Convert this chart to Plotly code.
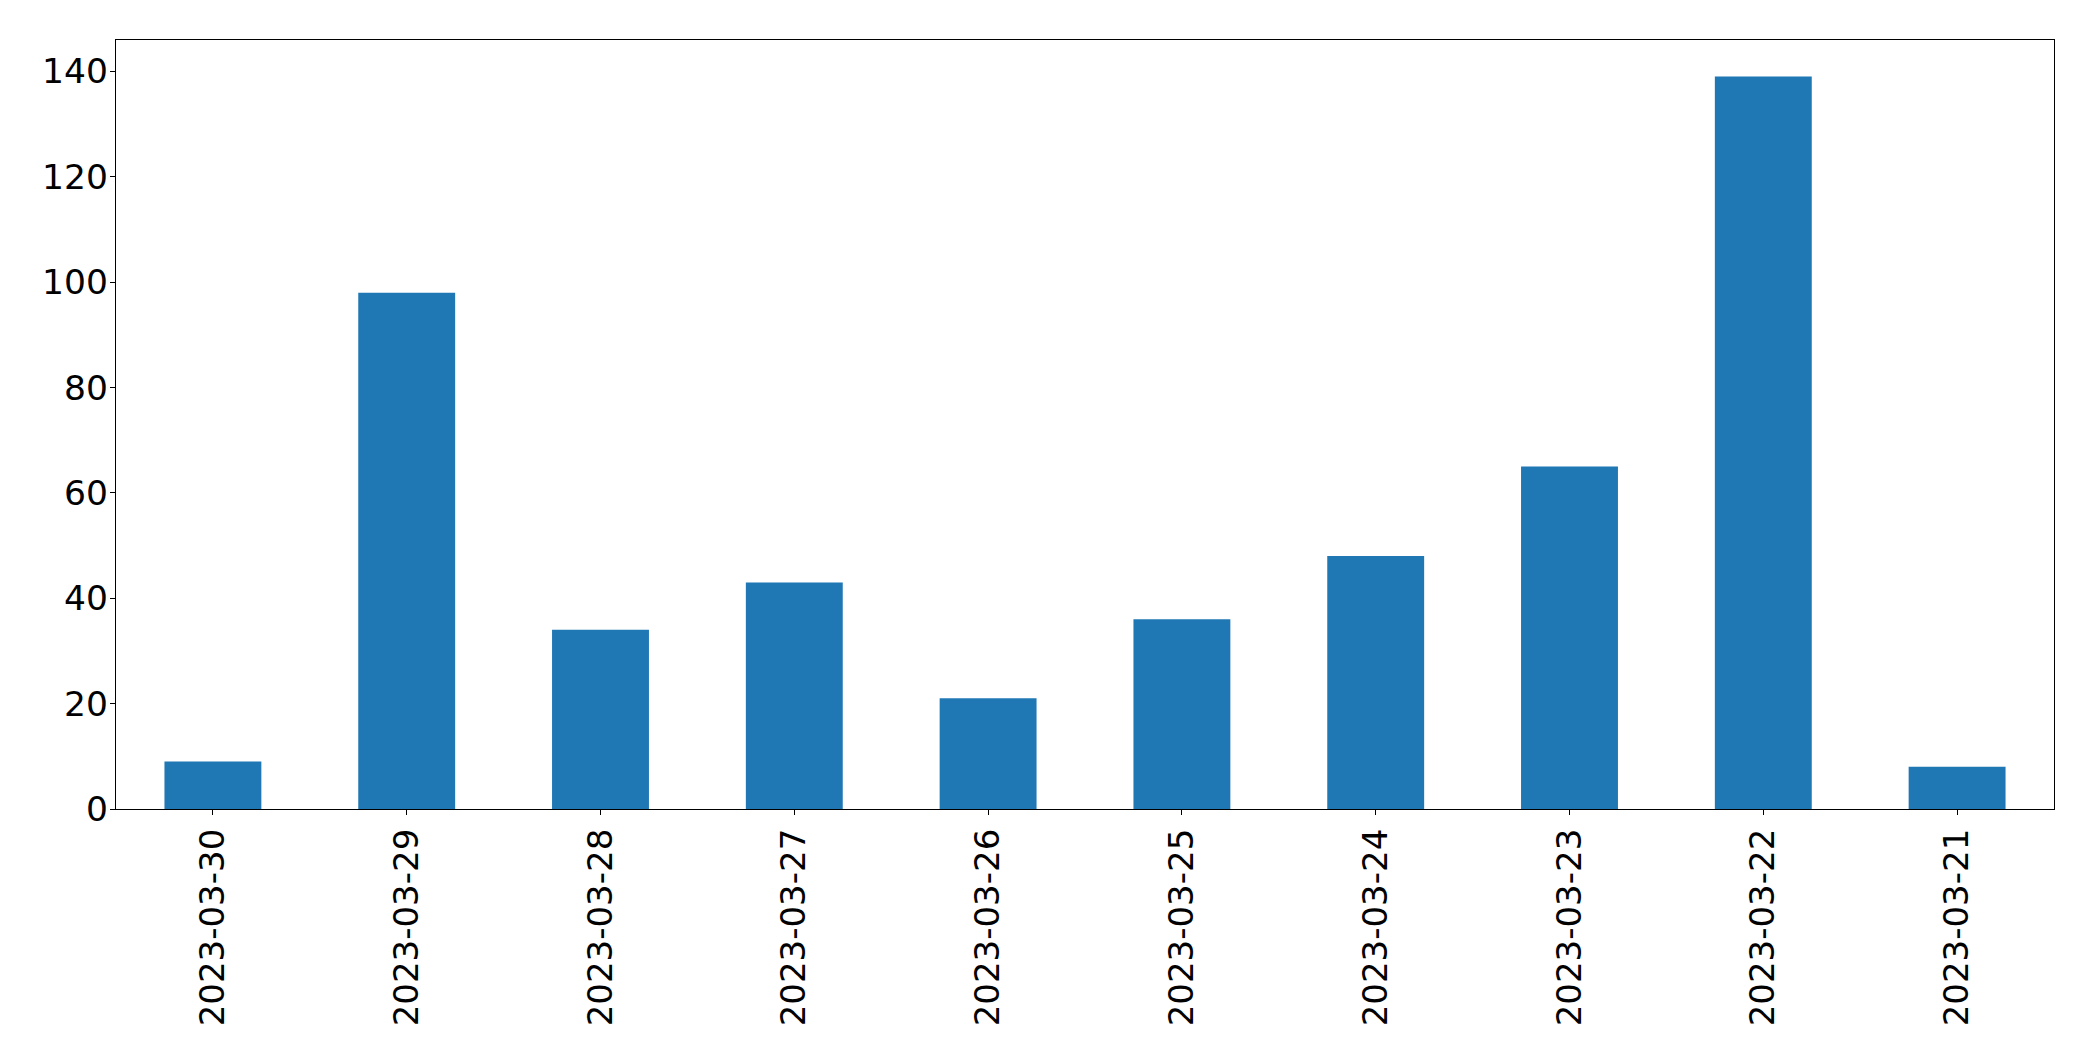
import plotly.graph_objects as go

dates = ["2023-03-30", "2023-03-29", "2023-03-28", "2023-03-27", "2023-03-26",
         "2023-03-25", "2023-03-24", "2023-03-23", "2023-03-22", "2023-03-21"]
counts = [9, 98, 34, 43, 21, 36, 48, 65, 139, 8]

fig = go.Figure(go.Bar(x=dates, y=counts, width=0.5, marker=dict(color="#1f77b4", line=dict(width=0))))

fig.update_layout(
    width=2093, height=1061,
    margin=dict(l=116, r=39, t=40, b=252),
    paper_bgcolor="white", plot_bgcolor="white",
    font=dict(family="DejaVu Sans", size=35, color="black"),
    showlegend=False,
)
fig.update_xaxes(
    type="category", range=[-0.5, 9.5],
    showline=True, linecolor="black", linewidth=1.3, mirror=True,
    ticks="outside", ticklen=5, tickwidth=1.3, tickcolor="black",
    tickangle=-90, showgrid=False, zeroline=False,
    tickfont=dict(size=34),
)
fig.update_yaxes(
    range=[0, max(counts) * 1.05], dtick=20,
    showline=True, linecolor="black", linewidth=1.3, mirror=True,
    ticks="outside", ticklen=5, tickwidth=1.3, tickcolor="black",
    showgrid=False, zeroline=False,
    tickfont=dict(size=34.5), ticklabelstandoff=-5,
)

fig.write_html("out.html")
